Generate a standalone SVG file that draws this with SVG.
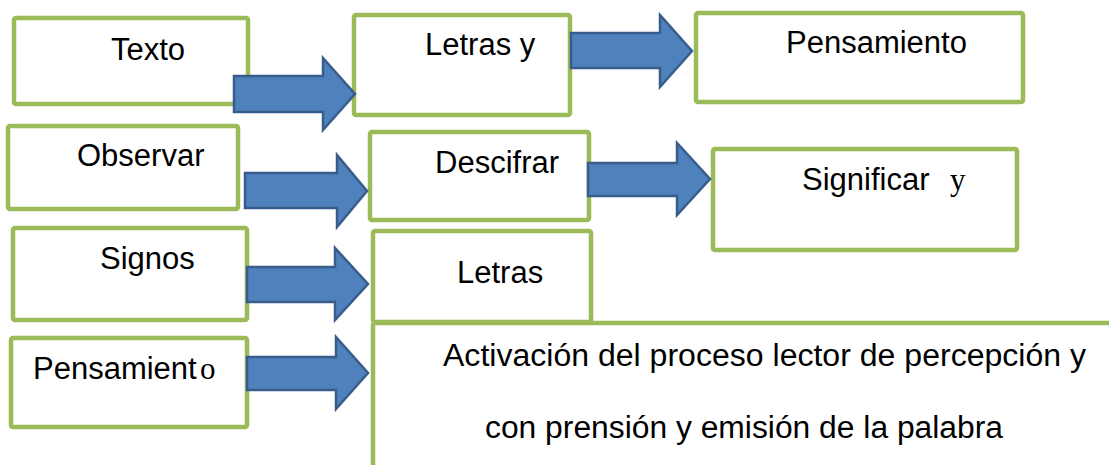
<svg xmlns="http://www.w3.org/2000/svg" width="1109" height="465" viewBox="0 0 1109 465">
<style>
.box{fill:#fff;stroke:#9BBB59;stroke-width:4.5}
.arr{fill:#4F81BD;stroke:#385D8A;stroke-width:2.5;stroke-linejoin:miter}
.t{font-family:"Liberation Sans",Arial,sans-serif;font-size:31px;fill:#000}
.s{font-family:"Liberation Serif","Times New Roman",serif;font-size:31px;fill:#000}
</style>
<rect width="1109" height="465" fill="#fff"/>
<g id="n-texto"><rect class="box" x="14" y="18" width="234" height="86" rx="2"/><text class="t" x="111" y="60">Texto</text></g>
<g id="n-letrasy"><rect class="box" x="354" y="15" width="216" height="100" rx="2"/><text class="t" x="425" y="55">Letras y</text></g>
<g id="n-pensamiento1"><rect class="box" x="696" y="13" width="327" height="89" rx="2"/><text class="t" x="786" y="53">Pensamiento</text></g>
<g id="n-observar"><rect class="box" x="8" y="126" width="230" height="83" rx="2"/><text class="t" x="77" y="166">Observar</text></g>
<g id="n-descifrar"><rect class="box" x="370" y="132" width="219" height="88" rx="2"/><text class="t" x="435" y="173">Descifrar</text></g>
<g id="n-significar"><rect class="box" x="713" y="149" width="304" height="101" rx="2"/><text class="t" x="802" y="190">Significar</text><text class="s" x="950" y="190">y</text></g>
<g id="n-signos"><rect class="box" x="13" y="228" width="234" height="92" rx="2"/><text class="t" x="100" y="269">Signos</text></g>
<g id="n-big"><rect class="box" x="373" y="323" width="800" height="200" rx="2"/><text class="t" x="443" y="366" textLength="643" lengthAdjust="spacingAndGlyphs">Activación del proceso lector de percepción y</text><text class="t" x="485" y="438" textLength="518" lengthAdjust="spacingAndGlyphs">con prensión y emisión de la palabra</text></g>
<g id="n-letras"><rect class="box" x="373" y="231" width="218" height="91" rx="2"/><text class="t" x="457" y="283">Letras</text></g>
<g id="n-pensamiento2"><rect class="box" x="11" y="338" width="236" height="89" rx="2"/><text class="t" x="33" y="379">Pensamient</text><text class="s" x="200" y="379">o</text></g>
<g id="connectors">
<path class="arr" d="M234,76 L323,76 L323,58 L355,94 L323,130 L323,112 L234,112 Z"/>
<path class="arr" d="M571,33 L660,33 L660,15 L692,51 L660,87 L660,68 L571,68 Z"/>
<path class="arr" d="M245,173 L337,173 L337,155 L367,191 L337,227 L337,208 L245,208 Z"/>
<path class="arr" d="M588,163 L677,163 L677,143 L710,179 L677,215 L677,196 L588,196 Z"/>
<path class="arr" d="M247,267 L335,267 L335,248 L368,284 L335,320 L335,302 L247,302 Z"/>
<path class="arr" d="M247,357 L336,357 L336,337 L368,373 L336,409 L336,390 L247,390 Z"/>
</g>
</svg>
